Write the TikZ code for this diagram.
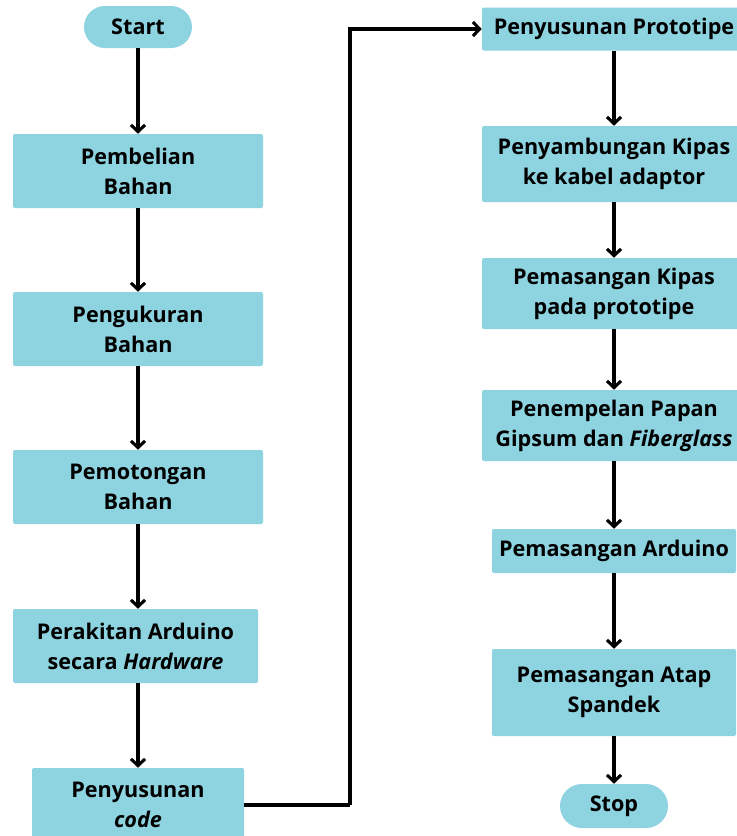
\documentclass[tikz,border=0pt]{standalone}
\usepackage{fontspec}
\setmainfont{Open Sans}
\usetikzlibrary{arrows.meta}
\definecolor{boxblue}{RGB}{142,211,224}
\begin{document}
\begin{tikzpicture}[x=0.75pt,y=-0.75pt,
  every node/.style={font=\bfseries\fontsize{16.2}{22.5}\selectfont, align=center, inner sep=0pt},
  procbox/.style={fill=boxblue, rounded corners=1.5pt, minimum width=#1},
  termbox/.style={fill=boxblue, rounded corners=15.75pt, minimum width=81pt},
  arr/.style={line width=2.3pt, -{Straight Barb[length=5pt,width=10.5pt]}},
  conn/.style={line width=2.3pt}
]
\clip (0,0) rectangle (737,836);
\fill[white] (0,0) rectangle (737,836);
% left column
\node[termbox, minimum height=31.5pt] (start) at (138,27) {Start};
\node[procbox=187.5pt, minimum height=55.5pt] (pemb) at (138,171) {Pembelian\\Bahan};
\node[procbox=187.5pt, minimum height=55.5pt] (peng) at (138,329) {Pengukuran\\Bahan};
\node[procbox=187.5pt, minimum height=55.5pt] (pemo) at (138,487) {Pemotongan\\Bahan};
\node[procbox=183.75pt, minimum height=55.5pt] (pera) at (135.5,646) {Perakitan Arduino\\secara \textit{Hardware}};
\node[procbox=159pt, minimum height=55.5pt] (code) at (138,805) {Penyusunan\\\textit{code}};
% right column
\node[procbox=198pt, minimum height=32.25pt] (proto) at (614,29) {Penyusunan Prototipe};
\node[procbox=198pt, minimum height=57pt] (kip1) at (614,164) {Penyambungan Kipas\\ke kabel adaptor};
\node[procbox=198pt, minimum height=53.25pt] (kip2) at (614,293.5) {Pemasangan Kipas\\pada prototipe};
\node[procbox=198pt, minimum height=53.25pt] (papan) at (614,425.5) {Penempelan Papan\\Gipsum dan \textit{Fiberglass}};
\node[procbox=183pt, minimum height=33pt] (ard) at (614,551) {Pemasangan Arduino};
\node[procbox=183pt, minimum height=65.25pt] (atap) at (614,692.5) {Pemasangan Atap\\Spandek};
\node[termbox, minimum height=33pt, rounded corners=16.5pt] (stop) at (614,806) {Stop};
% connectors
\draw[arr] (start) -- (pemb);
\draw[arr] (pemb) -- (peng);
\draw[arr] (peng) -- (pemo);
\draw[arr] (pemo.south) -- (pemo.south |- pera.north);
\draw[arr] (pera.south -| code.north) -- (code.north);
\coordinate (bend) at (350,805);
\draw[conn] (code.east) -- (bend);
\draw[arr] (bend) |- (proto.west);
\draw[arr] (proto) -- (kip1);
\draw[arr] (kip1) -- (kip2);
\draw[arr] (kip2) -- (papan);
\draw[arr] (papan) -- (ard);
\draw[arr] (ard) -- (atap);
\draw[arr] (atap) -- (stop);
\end{tikzpicture}
\end{document}
